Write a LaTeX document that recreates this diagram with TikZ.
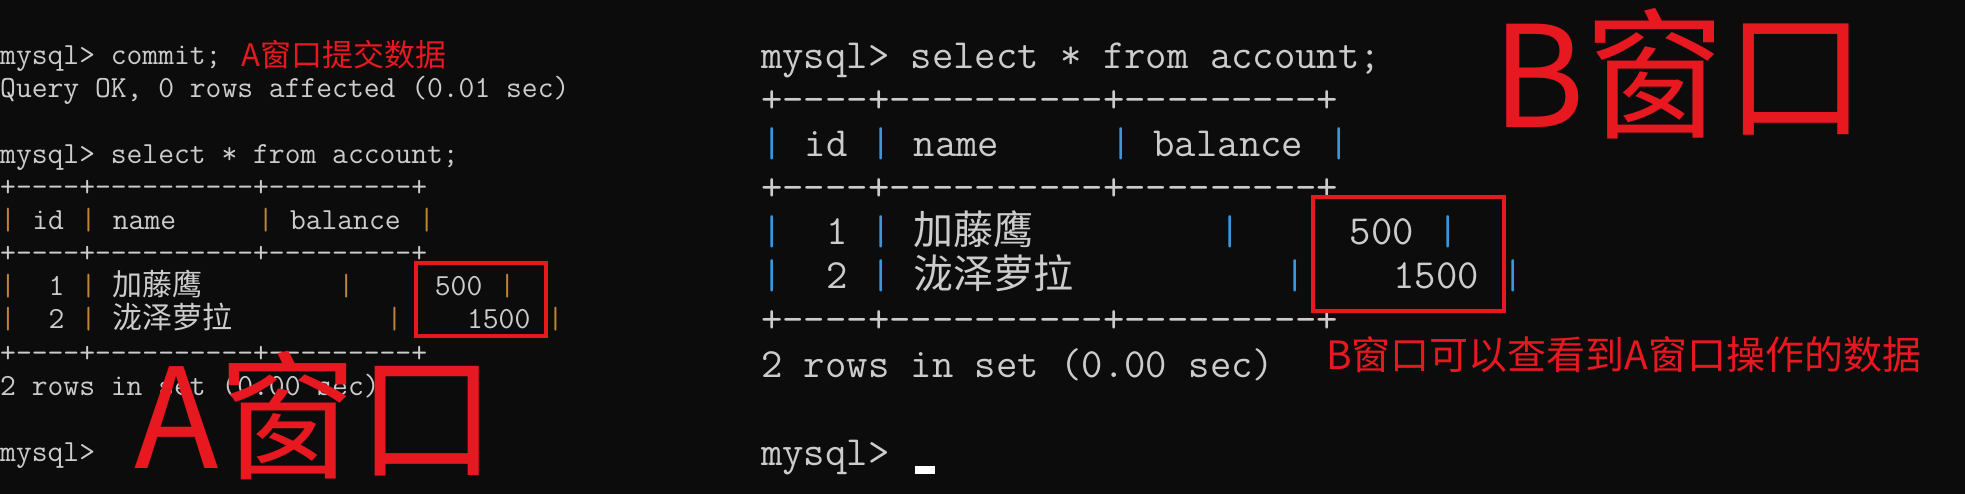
\documentclass[tikz,border=0pt]{standalone}
\usepackage{fontspec}
\newfontfamily\cjk{Noto Sans CJK SC}
\definecolor{termbg}{HTML}{0C0C0C}
\definecolor{termfg}{HTML}{CCCCCC}
\definecolor{pipeA}{HTML}{C0843A}
\definecolor{pipeB}{HTML}{3A96DD}
\definecolor{mark}{RGB}{232,24,32}
\tikzset{
  lt/.style={inner sep=0,anchor=base west,text=termfg,font=\fontsize{30.7}{33}\selectfont\ttfamily},
  rt/.style={inner sep=0,anchor=base west,text=termfg,font=\fontsize{41.5}{44}\selectfont\ttfamily},
  lc/.style={inner sep=0,anchor=base west,text=termfg,font=\fontsize{30}{33}\selectfont\cjk},
  rc/.style={inner sep=0,anchor=base west,text=termfg,font=\fontsize{40}{44}\selectfont\cjk},
  redbox/.style={draw=mark,line width=3.5pt},
  redtxt/.style={inner sep=0,anchor=base west,text=mark},
}
\newcommand\Lt[4][lt]{\node[#1] (l-#2-#3) at ({#2*16.1},{56+33*#3+9}) {#4};}
\newcommand\Rt[4][rt]{\node[#1] (r-#2-#3) at ({761+#2*21.8},{56+44*#3+13}) {#4};}
\newcommand\Lp[2]{\node[lt,text=pipeA] (lp-#1-#2) at ({#1*16.1},{56+33*#2+9}) {|};}
\newcommand\Rp[2]{\node[rt,text=pipeB] (rp-#1-#2) at ({761+#1*21.8},{56+44*#2+13}) {|};}
\begin{document}
\begin{tikzpicture}[x=1pt,y=-1pt]
\fill[termbg] (0,0) rectangle (1965,494);
\useasboundingbox (0,0) rectangle (1965,494);
% ---- left window ----
\Lt{0}{0}{mysql> commit;}
\node[redtxt,font=\fontsize{31}{33}\selectfont\cjk] (anote) at (241,67) {A窗口提交数据};
\Lt{0}{1}{Query OK, 0 rows affected (0.01 sec)}
\Lt{0}{3}{mysql> select * from account;}
\Lt{0}{4}{+----+----------+---------+}
\Lp{0}{5}\Lt{2}{5}{id}\Lp{5}{5}\Lt{7}{5}{name}\Lp{16}{5}\Lt{18}{5}{balance}\Lp{26}{5}
\Lt{0}{6}{+----+----------+---------+}
\Lp{0}{7}\Lt{3}{7}{1}\Lp{5}{7}\Lt[lc]{7}{7}{加藤鹰}\Lp{21}{7}\Lt{27}{7}{500}\Lp{31}{7}
\Lp{0}{8}\Lt{3}{8}{2}\Lp{5}{8}\Lt[lc]{7}{8}{泷泽萝拉}\Lp{24}{8}\Lt{29}{8}{1500}\Lp{34}{8}
\Lt{0}{9}{+----+----------+---------+}
\Lt{0}{10}{2 rows in set (0.00 sec)}
\Lt{0}{12}{mysql>}
\draw[redbox] (416,263) rectangle (546,336);
\node[redtxt,font=\fontsize{139}{139}\selectfont\cjk] (abig) at (134,468) {A窗口};
% ---- right window ----
\Rt{0}{0}{mysql> select * from account;}
\Rt{0}{1}{+----+----------+---------+}
\Rp{0}{2}\Rt{2}{2}{id}\Rp{5}{2}\Rt{7}{2}{name}\Rp{16}{2}\Rt{18}{2}{balance}\Rp{26}{2}
\Rt{0}{3}{+----+----------+---------+}
\Rp{0}{4}\Rt{3}{4}{1}\Rp{5}{4}\Rt[rc]{7}{4}{加藤鹰}\Rp{21}{4}\Rt{27}{4}{500}\Rp{31}{4}
\Rp{0}{5}\Rt{3}{5}{2}\Rp{5}{5}\Rt[rc]{7}{5}{泷泽萝拉}\Rp{24}{5}\Rt{29}{5}{1500}\Rp{34}{5}
\Rt{0}{6}{+----+----------+---------+}
\Rt{0}{7}{2 rows in set (0.00 sec)}
\Rt{0}{9}{mysql>}
\fill[white] (915,466) rectangle (935,474);
\draw[redbox] (1313,197) rectangle (1504,311);
\node[redtxt,font=\fontsize{39}{41}\selectfont\cjk] (bnote) at (1326,369) {B窗口可以查看到A窗口操作的数据};
\node[redtxt,font=\fontsize{141}{141}\selectfont\cjk] (bbig) at (1492,128) {B窗口};
\end{tikzpicture}
\end{document}
